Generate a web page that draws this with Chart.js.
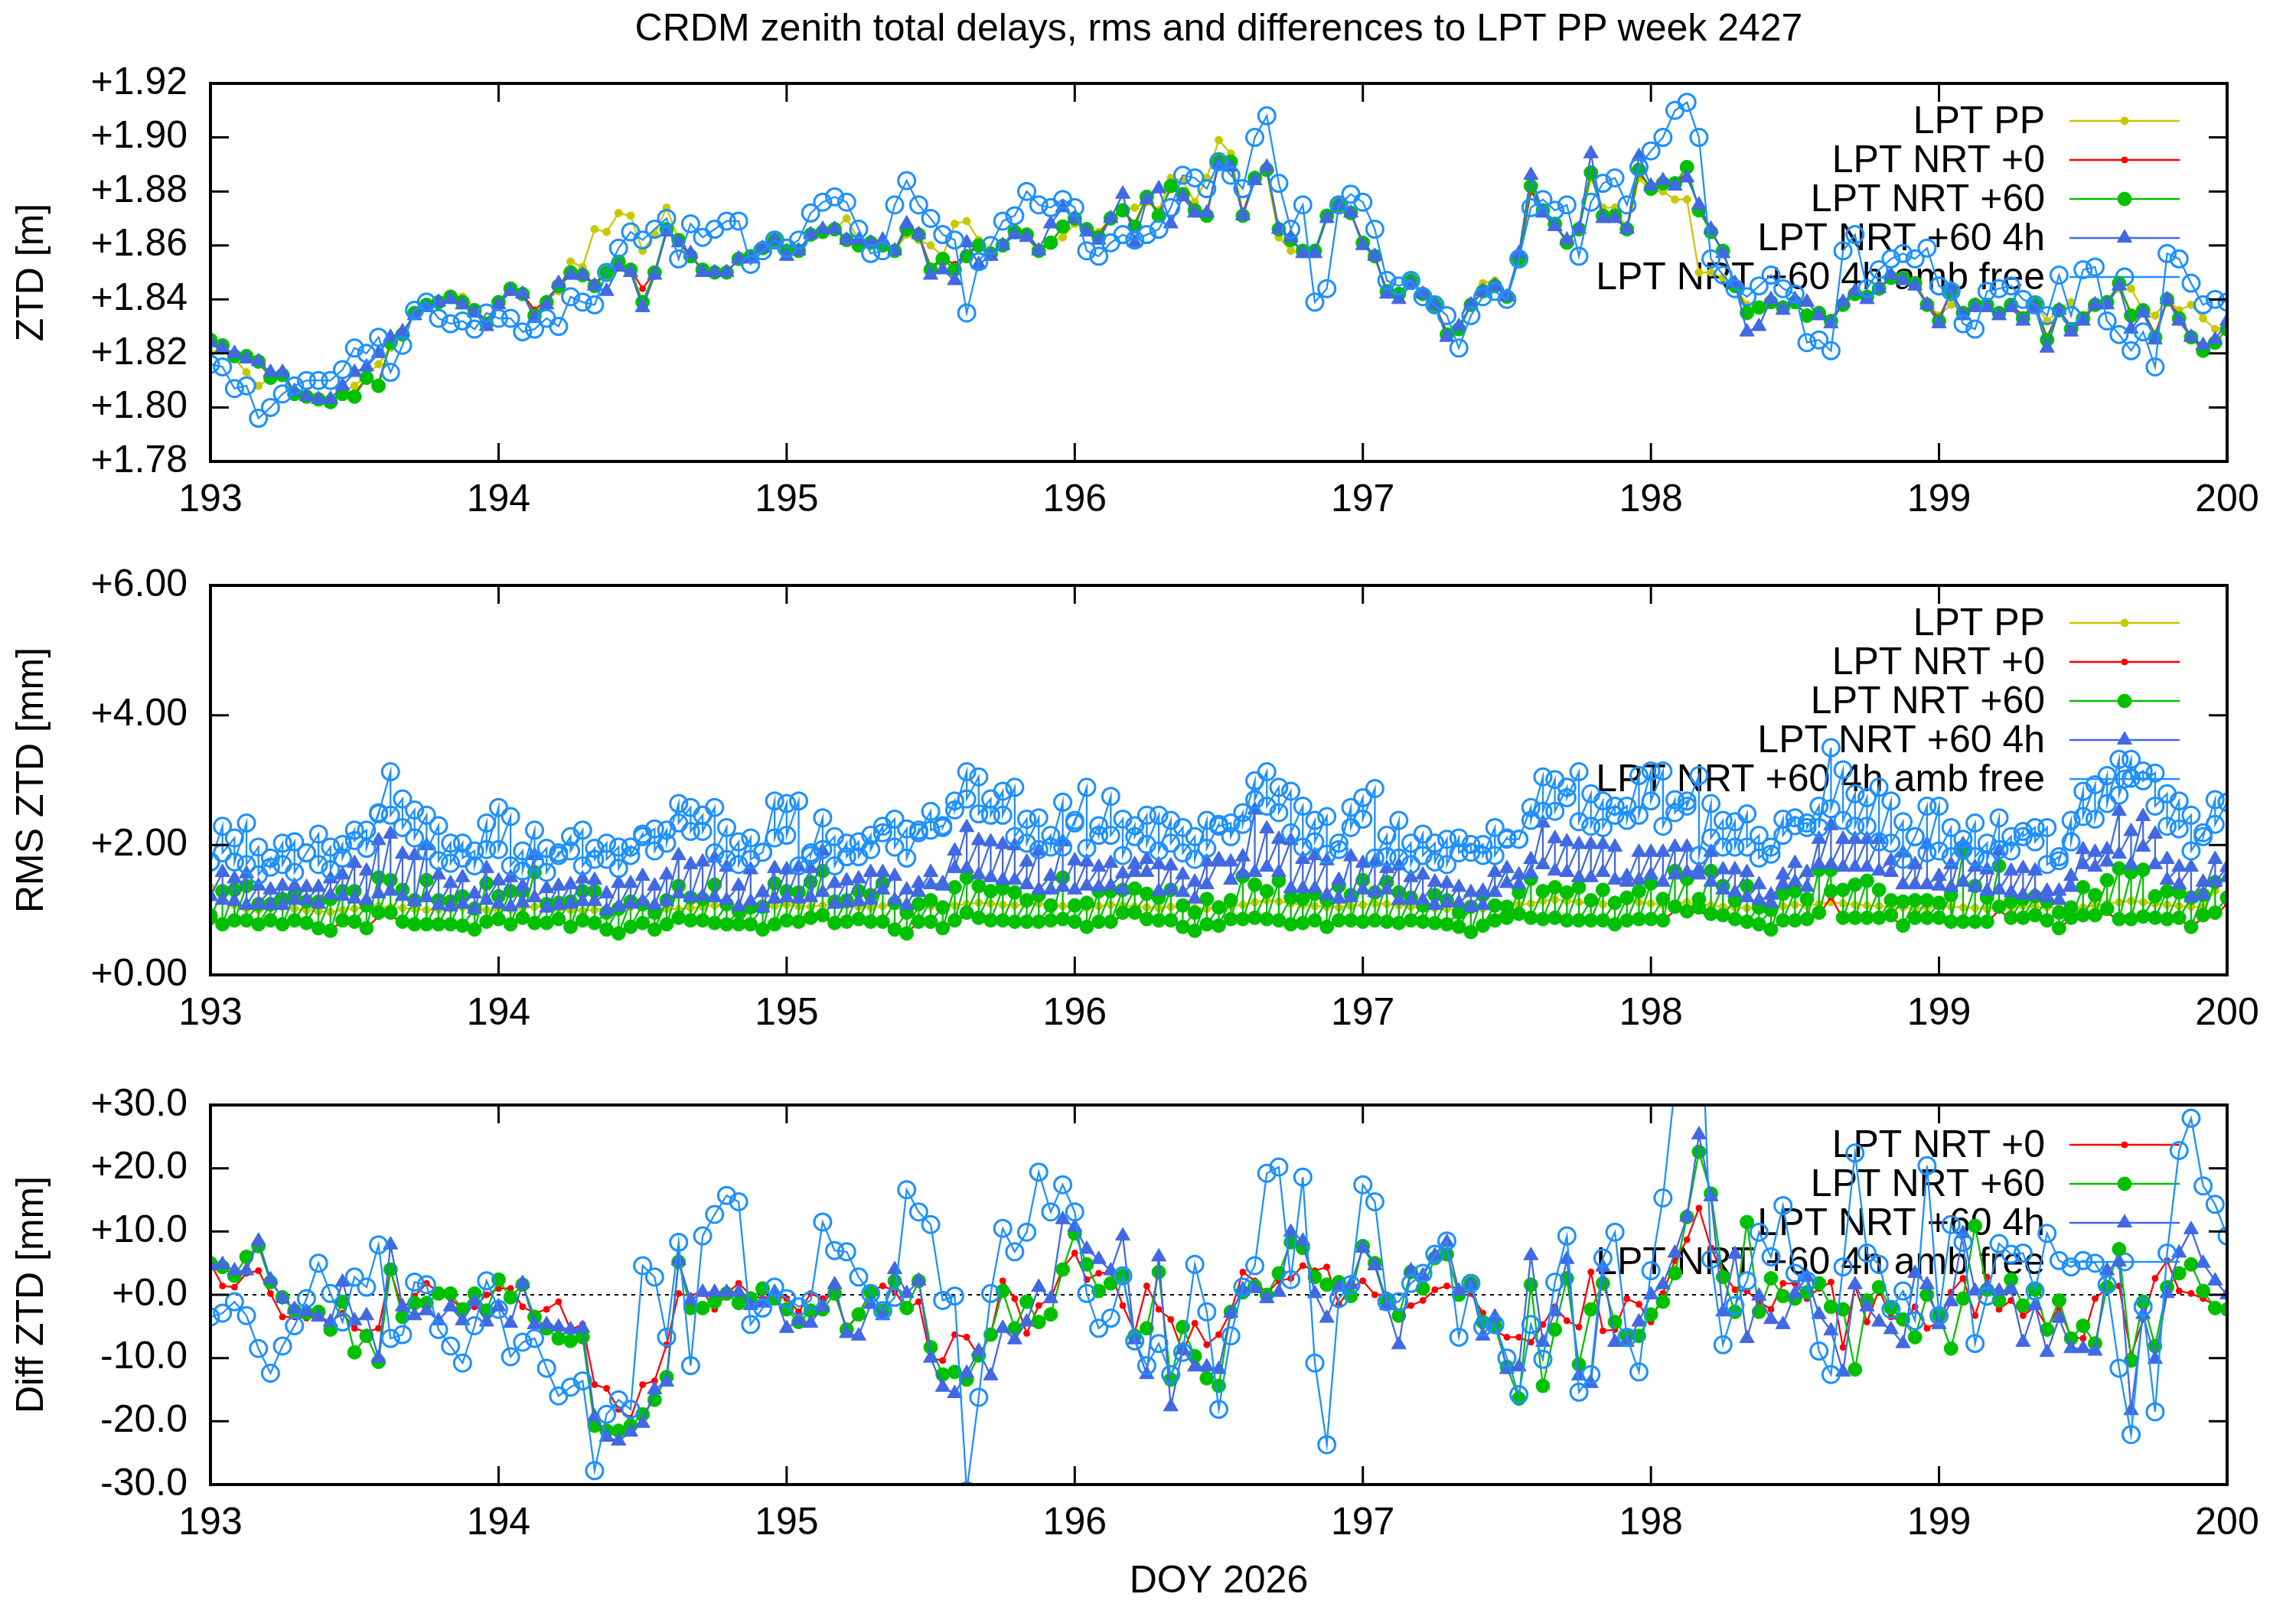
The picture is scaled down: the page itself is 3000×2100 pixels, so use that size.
<!DOCTYPE html>
<html>
<head>
<meta charset="utf-8">
<script src="https://cdn.jsdelivr.net/npm/chart.js@4.4.1/dist/chart.umd.min.js"></script>
<style>
  body { margin: 0; background: #fff; width: 3000px; height: 2100px; position: relative; overflow: hidden; }
  canvas { position: absolute; left: 0; }
  #title { position: absolute; left: 275px; width: 2635px; top: 8px; text-align: center;
           font: 50px "Liberation Sans", Arial, sans-serif; line-height: 56px; color: #000; }
</style>
</head>
<body>
<div id="title">CRDM zenith total delays, rms and differences to LPT PP week 2427</div>
<canvas id="ztd" width="3000" height="700" style="top:0px"></canvas>
<canvas id="rms" width="3000" height="660" style="top:700px"></canvas>
<canvas id="diff" width="3000" height="740" style="top:1360px"></canvas>
<script>
// hourly epochs, DOY 193.0 .. 200.0
const firstDoy = 193;
const hours = [];
for (let h = 0; h <= 168; h++) hours.push(firstDoy + h / 24);

// ---- ZTD [m] ----
const ztdPP = [
  1.820,1.822,1.818,1.813,1.808,1.811,1.812,1.806,1.805,1.804,
  1.804,1.806,1.808,1.812,1.816,1.822,1.828,1.834,1.838,1.839,
  1.841,1.841,1.837,1.832,1.839,1.843,1.842,1.836,1.840,1.843,
  1.854,1.852,1.866,1.865,1.872,1.871,1.858,1.864,1.874,1.862,
  1.857,1.851,1.850,1.850,1.855,1.856,1.859,1.862,1.858,1.858,
  1.864,1.865,1.866,1.870,1.862,1.861,1.860,1.858,1.864,1.862,
  1.860,1.856,1.868,1.869,1.862,1.858,1.860,1.864,1.863,1.858,
  1.862,1.863,1.868,1.866,1.865,1.870,1.873,1.874,1.876,1.873,
  1.885,1.884,1.876,1.885,1.899,1.894,1.872,1.884,1.887,1.863,
  1.858,1.857,1.858,1.870,1.874,1.872,1.861,1.855,1.844,1.842,
  1.847,1.843,1.838,1.826,1.828,1.838,1.846,1.847,1.841,1.856,
  1.881,1.873,1.868,1.862,1.866,1.885,1.874,1.874,1.866,1.885,
  1.880,1.880,1.877,1.877,1.850,1.850,1.848,1.845,1.838,1.837,
  1.839,1.837,1.839,1.834,1.835,1.833,1.838,1.843,1.841,1.844,
  1.848,1.849,1.846,1.839,1.834,1.838,1.836,1.838,1.838,1.835,
  1.838,1.834,1.838,1.832,1.836,1.839,1.834,1.838,1.839,1.844,
  1.844,1.836,1.834,1.840,1.836,1.838,1.833,1.829,1.830
];
const ztdNrt0 = [
  1.825,1.822,1.819,1.818,1.816,1.812,1.812,1.806,1.804,1.803,
  1.802,1.806,1.805,1.811,1.809,1.824,1.827,1.835,1.838,1.839,
  1.841,1.839,1.836,1.832,1.839,1.844,1.842,1.836,1.840,1.845,
  1.849,1.849,1.846,1.850,1.853,1.851,1.844,1.850,1.865,1.861,
  1.856,1.851,1.850,1.850,1.855,1.856,1.859,1.862,1.858,1.858,
  1.864,1.865,1.866,1.862,1.860,1.861,1.860,1.858,1.866,1.864,
  1.852,1.855,1.853,1.857,1.860,1.857,1.860,1.865,1.864,1.859,
  1.861,1.867,1.870,1.866,1.864,1.870,1.873,1.868,1.878,1.872,
  1.881,1.879,1.874,1.872,1.891,1.890,1.872,1.885,1.888,1.866,
  1.862,1.858,1.858,1.870,1.875,1.872,1.861,1.856,1.843,1.842,
  1.847,1.842,1.838,1.828,1.829,1.838,1.843,1.845,1.841,1.855,
  1.880,1.873,1.868,1.861,1.866,1.887,1.871,1.871,1.866,1.887,
  1.881,1.883,1.883,1.887,1.874,1.865,1.858,1.845,1.836,1.837,
  1.839,1.837,1.839,1.834,1.835,1.833,1.838,1.842,1.841,1.844,
  1.848,1.848,1.846,1.838,1.833,1.843,1.835,1.838,1.838,1.835,
  1.838,1.834,1.838,1.826,1.836,1.830,1.833,1.838,1.839,1.845,
  1.835,1.836,1.827,1.840,1.834,1.826,1.822,1.824,1.829
];
const ztdNrt60 = [
  1.825,1.823,1.819,1.819,1.817,1.811,1.812,1.805,1.804,1.803,
  1.802,1.805,1.804,1.811,1.808,1.824,1.827,1.835,1.838,1.839,
  1.841,1.839,1.836,1.831,1.839,1.844,1.842,1.834,1.839,1.845,
  1.850,1.849,1.845,1.850,1.854,1.851,1.839,1.850,1.866,1.862,
  1.856,1.851,1.850,1.850,1.855,1.856,1.859,1.862,1.858,1.858,
  1.864,1.865,1.866,1.862,1.860,1.861,1.860,1.858,1.866,1.864,
  1.851,1.855,1.851,1.856,1.860,1.857,1.860,1.865,1.864,1.858,
  1.861,1.867,1.870,1.866,1.863,1.870,1.873,1.867,1.878,1.871,
  1.882,1.879,1.873,1.871,1.891,1.891,1.871,1.885,1.888,1.866,
  1.862,1.858,1.858,1.871,1.875,1.872,1.861,1.856,1.843,1.842,
  1.847,1.842,1.838,1.827,1.829,1.838,1.843,1.845,1.841,1.855,
  1.882,1.873,1.868,1.861,1.866,1.887,1.871,1.871,1.866,1.888,
  1.881,1.883,1.883,1.889,1.873,1.865,1.858,1.845,1.835,1.837,
  1.839,1.837,1.839,1.834,1.835,1.832,1.838,1.842,1.841,1.844,
  1.848,1.848,1.846,1.838,1.832,1.843,1.835,1.838,1.838,1.835,
  1.838,1.833,1.838,1.825,1.836,1.829,1.833,1.838,1.839,1.846,
  1.834,1.836,1.826,1.840,1.833,1.826,1.821,1.824,1.829
];
const ztdNrt60_4h = [
  1.824,1.822,1.820,1.818,1.817,1.813,1.813,1.806,1.804,1.803,
  1.803,1.808,1.813,1.815,1.820,1.826,1.828,1.834,1.837,1.839,
  1.840,1.838,1.835,1.830,1.838,1.843,1.842,1.833,1.838,1.846,
  1.849,1.849,1.845,1.843,1.852,1.850,1.837,1.849,1.865,1.861,
  1.857,1.850,1.850,1.850,1.855,1.855,1.859,1.862,1.856,1.858,
  1.864,1.866,1.866,1.862,1.862,1.861,1.862,1.858,1.868,1.864,
  1.849,1.851,1.847,1.861,1.853,1.856,1.860,1.864,1.863,1.858,
  1.868,1.874,1.870,1.865,1.862,1.870,1.879,1.861,1.877,1.881,
  1.868,1.878,1.872,1.872,1.890,1.889,1.871,1.884,1.889,1.866,
  1.863,1.857,1.857,1.870,1.875,1.872,1.860,1.856,1.842,1.840,
  1.846,1.842,1.838,1.826,1.830,1.838,1.843,1.845,1.841,1.857,
  1.886,1.872,1.867,1.862,1.866,1.894,1.870,1.870,1.866,1.893,
  1.882,1.884,1.882,1.885,1.875,1.866,1.857,1.846,1.828,1.830,
  1.840,1.836,1.840,1.839,1.834,1.831,1.839,1.843,1.840,1.844,
  1.849,1.847,1.845,1.838,1.831,1.844,1.834,1.837,1.837,1.834,
  1.837,1.832,1.837,1.822,1.836,1.828,1.832,1.838,1.838,1.845,
  1.829,1.835,1.825,1.840,1.832,1.826,1.823,1.825,1.832
];
const ztdAmbFree = [
  1.816,1.815,1.807,1.808,1.796,1.800,1.805,1.808,1.810,1.810,
  1.810,1.814,1.822,1.820,1.826,1.813,1.823,1.836,1.839,1.833,
  1.831,1.832,1.829,1.835,1.833,1.833,1.828,1.829,1.833,1.830,
  1.841,1.839,1.838,1.850,1.859,1.865,1.862,1.866,1.870,1.855,
  1.868,1.863,1.866,1.869,1.869,1.853,1.858,1.862,1.859,1.862,
  1.872,1.876,1.878,1.876,1.866,1.857,1.858,1.875,1.884,1.875,
  1.870,1.864,1.862,1.835,1.854,1.860,1.869,1.871,1.880,1.875,
  1.874,1.877,1.874,1.858,1.856,1.861,1.864,1.862,1.864,1.866,
  1.874,1.886,1.885,1.881,1.891,1.886,1.881,1.900,1.908,1.883,
  1.866,1.875,1.839,1.844,1.875,1.879,1.876,1.866,1.847,1.845,
  1.847,1.841,1.838,1.834,1.822,1.834,1.841,1.843,1.840,1.855,
  1.874,1.877,1.873,1.875,1.856,1.876,1.883,1.885,1.875,1.889,
  1.895,1.900,1.910,1.913,1.900,1.855,1.849,1.844,1.841,1.845,
  1.849,1.844,1.842,1.824,1.825,1.821,1.858,1.864,1.844,1.851,
  1.855,1.857,1.855,1.859,1.845,1.843,1.831,1.829,1.843,1.844,
  1.845,1.840,1.838,1.834,1.849,1.834,1.851,1.852,1.832,1.827,
  1.821,1.828,1.815,1.857,1.855,1.846,1.838,1.840,1.839
];

// ---- RMS ZTD [mm] ----  (two values per solution hour: start / end)
const rmsPP = [
  1.35,1.20,1.08,1.02,1.00,1.03,1.05,1.02,1.00,0.98,
  0.97,1.00,1.02,1.04,1.06,1.04,1.03,1.02,1.00,1.01,
  1.02,1.04,1.02,1.00,0.99,1.01,1.03,1.05,1.03,1.02,
  1.00,0.99,1.00,1.02,1.03,1.05,1.06,1.04,1.02,1.01,
  1.03,1.05,1.07,1.05,1.03,1.02,1.04,1.06,1.08,1.06,
  1.05,1.07,1.09,1.07,1.05,1.04,1.06,1.08,1.09,1.08,
  1.06,1.05,1.07,1.09,1.11,1.10,1.08,1.07,1.09,1.10,
  1.08,1.06,1.05,1.04,1.06,1.08,1.07,1.05,1.04,1.03,
  1.05,1.04,1.03,1.02,1.04,1.06,1.08,1.12,1.15,1.13,
  1.10,1.08,1.06,1.05,1.04,1.06,1.08,1.10,1.09,1.07,
  1.05,1.04,1.03,1.02,1.01,1.00,1.02,1.04,1.06,1.08,
  1.10,1.14,1.16,1.14,1.12,1.10,1.09,1.11,1.13,1.12,
  1.10,1.08,1.10,1.12,1.09,1.07,1.05,1.04,1.03,1.02,
  1.04,1.06,1.08,1.07,1.09,1.12,1.10,1.08,1.07,1.06,
  1.05,1.04,1.03,1.04,1.06,1.05,1.04,1.03,1.02,1.03,
  1.04,1.06,1.05,1.04,1.03,1.02,1.04,1.07,1.10,1.12,
  1.14,1.12,1.10,1.08,1.06,1.05,1.04,1.30,1.60
];
const rmsNrt0 = [
  0.86,0.80,0.82,0.82,0.78,0.82,0.78,0.82,0.78,0.72,
  0.70,0.82,0.80,0.72,0.90,0.92,0.80,0.78,0.78,0.78,
  0.78,0.76,0.72,0.80,0.84,0.78,0.84,0.80,0.80,0.84,
  0.76,0.82,0.80,0.72,0.66,0.74,0.80,0.72,0.78,0.84,
  0.82,0.82,0.80,0.78,0.78,0.78,0.72,0.78,0.82,0.80,
  0.84,0.88,0.80,0.80,0.84,0.80,0.80,0.72,0.66,0.80,
  0.80,0.72,0.82,0.92,0.86,0.82,0.82,0.80,0.80,0.80,
  0.82,0.84,0.80,0.76,0.80,0.80,0.92,0.92,0.84,0.82,
  0.82,0.76,0.70,0.78,0.76,0.84,0.84,0.86,0.84,0.82,
  0.78,0.80,0.82,0.76,0.82,0.82,0.80,0.82,0.80,0.80,
  0.82,0.80,0.80,0.78,0.76,0.68,0.76,0.82,0.86,0.90,
  0.86,0.84,0.86,0.82,0.82,0.82,0.82,0.78,0.82,0.84,
  0.84,0.82,1.00,0.94,0.98,0.90,0.90,0.84,0.80,0.78,
  0.72,0.82,0.82,0.84,0.92,1.20,0.86,0.86,0.86,0.86,
  0.88,0.76,0.86,0.86,0.86,0.80,0.80,0.80,0.80,1.00,
  0.86,0.86,0.88,0.82,0.72,0.86,0.88,0.88,0.96,0.84,
  0.84,0.86,0.86,0.84,0.86,0.74,0.88,0.90,1.10
];
const rmsNrt60Hi = [
  0.92,1.29,1.31,1.37,1.09,1.09,1.17,1.23,1.13,1.13,
  1.17,1.29,1.29,1.07,1.50,1.46,1.31,1.15,1.46,1.15,
  1.13,1.21,1.02,1.41,1.21,1.29,1.29,1.58,1.09,1.11,
  1.13,1.29,1.29,0.96,1.02,1.13,1.09,0.96,1.15,1.37,
  1.19,1.17,1.39,1.09,0.98,1.04,1.05,1.41,1.29,1.27,
  1.43,1.60,1.13,1.15,1.29,1.23,1.41,1.11,0.96,1.09,
  1.15,1.04,1.35,1.50,1.37,1.29,1.33,1.27,1.15,1.23,
  1.07,1.50,1.07,1.11,1.29,1.29,1.31,1.33,1.25,1.19,
  1.31,1.07,0.96,1.17,1.04,1.15,1.52,1.39,1.29,1.45,
  1.19,1.17,1.25,1.15,1.37,1.23,1.46,1.27,1.43,1.27,
  1.19,1.07,1.23,1.15,0.96,1.05,1.23,1.07,1.05,1.27,
  1.48,1.29,1.35,1.27,1.35,1.15,1.31,1.11,1.19,1.29,
  1.41,1.17,1.60,1.48,1.17,1.60,1.37,1.15,1.37,1.04,
  1.00,1.25,1.29,1.17,1.62,1.62,1.31,1.39,1.45,1.31,
  1.15,1.13,1.15,1.15,1.11,1.23,1.88,1.37,1.19,1.68,
  1.13,1.17,1.21,1.13,0.96,1.04,1.35,1.23,1.46,1.64,
  1.58,1.62,1.21,1.29,1.27,1.19,1.23,1.43,1.19
];
const rmsNrt60Lo = [
  0.88,0.78,0.84,0.84,0.78,0.84,0.78,0.84,0.80,0.72,
  0.68,0.84,0.82,0.72,0.96,0.96,0.82,0.78,0.78,0.78,
  0.78,0.76,0.70,0.82,0.86,0.78,0.88,0.80,0.80,0.86,
  0.74,0.84,0.80,0.70,0.64,0.74,0.80,0.70,0.78,0.88,
  0.84,0.84,0.80,0.78,0.78,0.78,0.70,0.78,0.84,0.82,
  0.88,0.92,0.80,0.82,0.86,0.82,0.82,0.70,0.64,0.82,
  0.82,0.72,0.84,0.96,0.88,0.84,0.84,0.82,0.82,0.82,
  0.84,0.86,0.82,0.74,0.82,0.82,0.96,0.96,0.86,0.84,
  0.84,0.74,0.68,0.78,0.76,0.86,0.86,0.88,0.86,0.84,
  0.78,0.80,0.84,0.74,0.84,0.84,0.82,0.84,0.82,0.80,
  0.84,0.82,0.80,0.78,0.74,0.66,0.76,0.84,0.88,0.94,
  0.88,0.86,0.88,0.84,0.84,0.84,0.84,0.78,0.84,0.86,
  0.86,0.84,1.05,0.98,1.04,0.94,0.92,0.86,0.82,0.78,
  0.70,0.84,0.84,0.86,0.96,1.29,0.88,0.88,0.88,0.88,
  0.92,0.76,0.88,0.88,0.88,0.82,0.82,0.82,0.82,1.05,
  0.88,0.88,0.92,0.84,0.72,0.88,0.92,0.92,1.02,0.86,
  0.86,0.90,0.88,0.86,0.88,0.74,0.92,0.96,1.19
];
const rms4hHi = [
  1.21,1.58,1.48,1.56,1.37,1.31,1.37,1.37,1.35,1.35,
  1.48,1.54,1.72,1.60,2.07,2.17,1.86,1.84,1.99,1.54,
  1.41,1.50,1.25,1.64,1.45,1.50,1.37,1.84,1.33,1.37,
  1.39,1.48,1.46,1.25,1.41,1.41,1.52,1.37,1.54,1.84,
  1.70,1.74,1.80,1.66,1.37,1.62,1.27,1.64,1.62,1.66,
  1.64,1.91,1.41,1.45,1.48,1.58,1.58,1.52,1.31,1.41,
  1.58,1.41,1.91,2.27,2.07,2.05,2.01,1.99,1.74,1.91,
  1.52,2.05,1.76,1.74,1.66,1.72,1.56,1.70,1.78,1.70,
  1.68,1.54,1.43,1.74,1.78,1.74,1.82,2.54,2.25,2.09,
  2.07,1.78,1.84,1.76,1.46,1.82,1.72,1.74,1.64,1.68,
  1.50,1.54,1.43,1.41,1.35,1.27,1.29,1.58,1.64,1.54,
  1.78,2.34,2.10,2.05,2.01,2.01,2.01,1.97,1.52,1.89,
  1.89,1.89,1.97,1.97,1.62,1.89,1.62,1.62,1.58,1.39,
  1.23,1.54,1.72,1.58,2.09,2.30,2.09,2.09,2.09,2.09,
  1.76,1.88,1.70,2.01,1.52,1.70,2.01,1.66,1.62,1.91,
  1.60,1.64,1.60,1.29,1.29,1.52,1.93,1.89,1.93,2.52,
  2.21,2.44,2.17,1.78,1.66,1.66,1.43,1.78,1.66
];
const rms4hLo = [
  1.21,1.15,1.13,1.07,1.09,1.07,1.07,1.15,1.15,1.09,
  1.23,1.21,1.17,1.15,1.25,1.29,1.21,1.13,1.19,1.07,
  1.05,1.09,1.01,1.15,1.09,1.05,1.11,1.19,1.03,1.07,
  1.09,1.13,1.13,0.99,1.05,1.09,1.13,1.07,1.13,1.25,
  1.19,1.21,1.19,1.15,1.05,1.13,1.03,1.17,1.19,1.17,
  1.19,1.27,1.09,1.11,1.13,1.15,1.31,1.15,1.07,1.27,
  1.39,1.37,1.64,1.64,1.54,1.50,1.46,1.46,1.39,1.31,
  1.31,1.35,1.31,1.37,1.35,1.37,1.31,1.58,1.58,1.29,
  1.31,1.27,1.17,1.39,1.74,1.46,1.56,1.58,1.66,1.58,
  1.33,1.33,1.33,1.23,1.17,1.19,1.31,1.27,1.31,1.15,
  1.15,1.15,1.07,1.11,1.11,1.04,1.07,1.27,1.41,1.39,
  1.56,1.70,1.60,1.58,1.50,1.50,1.58,1.46,1.43,1.46,
  1.54,1.43,1.54,1.58,1.54,1.43,1.31,1.27,1.19,1.15,
  1.11,1.39,1.43,1.35,1.70,1.70,1.66,1.66,1.66,1.60,
  1.58,1.39,1.39,1.39,1.37,1.35,1.43,1.35,1.29,1.31,
  1.27,1.23,1.23,1.19,1.15,1.35,1.70,1.66,1.74,1.86,
  1.70,1.97,1.70,1.46,1.39,1.19,1.23,1.43,1.50
];
const rmsAmbHi = [
  1.74,2.29,2.11,2.34,1.97,1.80,2.03,2.05,1.88,2.17,
  1.97,2.01,2.23,2.23,2.50,3.13,2.71,2.54,2.46,2.30,
  2.03,2.03,1.91,2.34,2.58,2.44,1.91,2.23,1.95,1.88,
  2.13,2.23,1.95,2.03,1.97,1.97,2.17,2.25,2.23,2.64,
  2.58,2.46,2.58,2.27,2.05,2.11,1.89,2.68,2.64,2.68,
  1.88,2.42,2.13,2.03,2.05,2.15,2.29,2.40,2.25,2.23,
  2.52,2.30,2.68,3.13,3.05,2.71,2.83,2.89,2.40,2.42,
  2.15,2.66,2.38,2.89,2.30,2.75,2.40,2.30,2.46,2.46,
  2.38,2.27,2.13,2.38,2.32,2.34,2.50,2.99,3.13,2.89,
  2.83,2.60,2.38,2.44,2.03,2.58,2.73,2.87,2.15,2.38,
  2.03,2.17,2.03,2.09,2.11,2.01,2.01,2.27,2.11,2.09,
  2.58,3.05,3.01,2.89,3.13,2.79,2.68,2.60,2.60,3.07,
  3.14,3.14,2.70,2.68,3.07,2.64,2.38,2.36,2.48,2.15,
  1.97,2.40,2.42,2.34,2.60,3.50,3.16,2.79,2.73,2.89,
  2.68,2.36,2.13,2.60,2.60,2.27,2.09,2.34,2.03,2.42,
  2.13,2.21,2.27,2.27,1.82,2.38,2.83,2.93,3.07,3.32,
  3.32,3.14,3.11,2.79,2.68,2.46,2.19,2.70,2.66
];
const rmsAmbLo = [
  1.74,1.88,1.74,1.70,1.54,1.66,1.70,1.58,1.88,1.70,
  1.62,1.80,2.07,1.95,2.48,2.46,2.27,2.11,1.91,1.76,
  1.72,1.80,1.68,1.93,1.93,1.68,1.60,1.74,1.58,1.84,
  1.91,1.68,1.78,1.78,1.64,1.84,2.13,1.91,2.03,2.34,
  2.21,2.21,1.88,1.78,1.70,1.78,1.89,2.11,2.15,1.68,
  1.84,1.93,1.68,1.82,1.82,1.93,2.19,1.97,1.80,2.19,
  2.23,2.27,2.54,2.71,2.48,2.46,2.46,2.13,2.03,1.93,
  1.97,1.97,2.34,1.95,2.15,2.15,1.84,2.13,2.01,1.91,
  2.03,1.88,1.78,1.95,2.29,2.13,2.32,2.70,2.60,2.50,
  2.19,1.97,2.05,1.86,1.93,2.27,2.40,1.80,1.82,1.80,
  1.70,1.84,1.74,1.70,1.88,1.89,1.84,1.84,2.09,2.09,
  2.38,2.52,2.52,2.73,2.36,2.29,2.27,2.46,2.38,2.46,
  2.68,2.29,2.50,2.60,1.84,2.11,1.97,1.97,1.97,1.80,
  1.86,2.15,2.30,2.27,2.27,2.56,2.38,2.29,2.29,2.05,
  2.03,1.78,2.13,1.88,1.91,1.82,1.93,1.82,1.76,1.93,
  1.91,2.13,2.05,1.70,1.76,2.05,2.44,2.40,2.64,2.77,
  3.03,2.99,2.60,2.29,2.25,1.91,2.13,2.32,2.66
];

// ---- Diff ZTD [mm] to LPT PP ----
const diffNrt0 = [
  5.0,1.4,1.2,3.4,3.8,0.2,-3.5,-3.5,-3.7,-3.5,
  -4.3,-2.9,-5.3,-5.9,-5.3,3.8,-2.3,-0.2,1.8,0.4,
  -0.6,-2.3,-1.9,0.0,1.0,1.0,-1.9,-2.9,-2.3,-1.1,
  -5.5,-4.7,-14.2,-14.8,-18.1,-19.5,-14.2,-13.6,-7.9,0.2,
  -0.2,0.6,-2.3,0.2,1.8,0.0,-0.6,0.0,-0.6,-2.7,
  0.2,-0.6,0.2,-5.3,-3.1,0.6,1.4,0.6,-2.3,-1.1,
  -10.0,-10.4,-6.3,-6.7,-9.7,-6.3,2.2,-0.6,-6.1,-1.7,
  -0.6,4.2,6.6,2.4,3.4,3.6,-1.7,-5.9,1.4,-2.3,
  -3.9,-9.1,-4.5,-7.9,-6.3,-2.7,3.6,2.2,0.2,2.2,
  2.6,4.6,3.8,4.4,-1.5,1.0,2.2,0.0,0.0,-2.7,
  -1.7,-0.9,0.8,1.4,1.0,0.2,-2.9,-5.7,-6.7,-6.7,
  -7.5,-4.7,-1.9,-4.1,-5.1,3.6,-5.7,-5.5,-0.6,-1.5,
  -4.3,0.2,5.4,8.7,13.7,7.4,3.4,0.8,0.6,-1.1,
  -2.3,1.8,1.8,-0.6,1.0,2.0,-8.3,1.4,-4.3,0.8,
  -3.5,-4.3,-1.9,-5.3,-4.3,0.4,2.6,-3.3,2.8,-2.3,
  -0.9,-3.3,-1.9,-5.1,-2.1,-6.7,-6.9,-0.6,1.0,1.4,
  -9.6,-3.9,2.6,5.4,0.6,0.2,-0.6,-1.7,-2.3
];
const diffNrt60 = [
  5.0,4.4,3.0,6.0,7.7,2.0,-0.4,-2.5,-2.9,-2.7,
  -5.5,-1.1,-9.1,-6.5,-10.6,4.0,-3.5,-1.3,-1.3,0.2,
  0.2,-2.3,0.2,-2.5,2.4,-0.4,1.6,-3.5,-5.3,-6.9,
  -7.3,-6.7,-20.7,-21.5,-21.5,-20.7,-18.9,-16.6,-13.0,5.2,
  -2.1,-2.1,-1.1,0.2,-1.3,-0.6,1.0,-0.6,-2.3,-4.3,
  -2.5,-2.3,0.2,-5.5,-3.1,0.4,-2.5,2.2,-2.1,2.2,
  -8.3,-12.6,-12.2,-13.4,-9.6,-6.3,0.6,-5.3,-1.1,-4.3,
  -3.1,4.0,9.7,4.8,0.6,1.8,3.0,-6.5,-5.3,3.6,
  -13.4,-5.1,-9.7,-13.2,-14.4,-2.7,0.4,1.4,0.0,3.4,
  8.3,7.4,2.8,1.6,2.0,-0.2,7.7,5.0,-1.1,-3.3,
  3.6,1.0,5.8,6.4,0.0,1.8,-4.3,-4.9,-11.4,-16.4,
  1.6,-14.4,-5.5,2.6,-11.0,-2.3,1.8,-4.3,-6.5,-6.5,
  -3.1,-1.1,3.4,12.3,22.6,16.0,2.8,-2.7,11.5,-2.7,
  2.6,-0.2,-0.6,0.4,1.8,-1.9,-2.3,-11.8,-0.9,1.2,
  -2.1,-3.9,-6.7,0.0,-3.3,-8.5,-0.6,10.9,0.8,-0.9,
  2.4,-1.7,0.8,-5.5,-0.9,-6.9,-4.9,-7.7,1.2,7.2,
  -10.4,-1.1,-8.1,1.2,3.4,4.8,0.6,-2.1,-2.3
];
const diff4h = [
  4.6,4.8,3.8,3.8,8.5,2.4,-0.6,-2.3,-2.7,-3.5,
  -4.3,2.0,-4.1,-3.3,-10.0,7.9,-1.9,-3.3,-2.5,-4.1,
  -1.9,-4.1,-1.1,-4.3,-1.9,-4.5,1.8,-4.7,-4.7,-5.1,
  -5.5,-5.3,-19.3,-22.5,-23.1,-21.7,-20.3,-15.0,-13.8,5.4,
  -0.9,0.4,0.4,0.4,0.4,-1.7,-1.3,0.4,-5.3,-4.1,
  -4.5,-1.9,1.6,-6.1,-6.5,-1.5,-3.3,4.0,0.2,2.2,
  -10.0,-14.6,-15.6,-12.4,-8.9,-12.8,-5.3,-7.1,-4.3,1.2,
  -0.6,11.9,10.7,7.2,5.6,3.8,9.3,-7.1,-12.6,6.0,
  -17.7,-8.7,-11.4,-11.4,-11.8,-2.9,0.8,1.0,-0.6,0.4,
  9.9,8.5,0.2,-3.7,1.2,1.6,7.4,4.6,-1.7,-7.9,
  3.8,3.0,6.2,8.3,0.6,1.6,-6.5,-3.5,-11.8,-11.4,
  6.2,-7.5,-2.7,5.6,-12.8,-14.0,4.4,-7.5,-7.5,-4.3,
  0.0,1.6,6.6,12.3,25.3,15.5,-2.7,6.4,-6.9,-0.2,
  -3.9,-4.7,0.2,2.8,-3.1,-5.7,-12.2,1.6,-1.9,-4.3,
  -5.5,-7.7,3.4,1.6,-4.7,-1.1,9.7,0.6,1.2,0.6,
  0.8,-7.5,-1.7,-9.1,-3.7,-8.5,-8.5,-8.9,3.8,5.2,
  -18.3,-3.1,-10.2,0.2,6.6,10.3,5.0,2.2,0.0
];
const diffAmbFree = [
  -3.5,-2.9,-1.1,-3.3,-8.5,-12.4,-8.1,-4.9,-0.6,5.0,
  0.2,-4.3,2.8,1.2,7.9,-6.9,-6.3,2.0,1.6,-5.5,
  -8.1,-10.8,-4.9,2.2,-2.3,-9.8,-7.5,-6.9,-11.6,-16.0,
  -14.6,-13.6,-27.8,-18.9,-16.6,-18.1,4.6,2.8,-6.7,8.3,
  -11.2,9.3,12.7,15.7,14.7,-4.7,-2.1,1.2,-0.6,-1.9,
  -0.9,11.5,7.0,6.8,2.8,0.2,-2.5,-0.4,16.6,13.1,
  11.1,-0.9,-0.2,-31.0,-16.2,0.2,10.5,6.8,9.9,19.4,
  13.1,17.4,13.1,0.2,-5.3,-3.7,3.0,-7.3,-11.2,-7.7,
  -12.6,-9.1,4.8,-2.7,-18.1,-6.5,1.2,4.6,19.2,20.2,
  2.4,18.6,-10.8,-23.7,-0.6,1.6,17.4,14.7,-1.1,-1.1,
  1.8,3.4,6.4,8.5,-6.7,1.8,-5.1,-4.7,-10.0,-15.8,
  -4.7,-10.2,2.0,9.3,-15.4,-12.6,5.8,9.9,-6.7,-12.2,
  3.8,15.3,33.0,45.0,55.0,5.6,-7.9,-1.7,2.2,9.9,
  6.0,14.1,3.4,2.2,-8.9,-12.6,4.4,22.4,6.6,4.8,
  -2.3,0.6,-4.1,20.4,-3.3,11.1,8.3,-7.7,-0.2,8.1,
  6.4,6.6,0.6,9.7,5.4,4.4,5.4,5.0,1.6,-11.6,
  -22.1,-1.9,-18.5,6.6,22.8,27.9,17.2,14.3,9.3
];

const FONT = '"Liberation Sans", Arial, sans-serif';
const FS = 50;

const styles = {
  pp:    { label: 'LPT PP',                  color: '#c8c800', shape: 'circle',   r: 5,  order: 4 },
  nrt0:  { label: 'LPT NRT +0',              color: '#ff0000', shape: 'circle',   r: 4,  order: 3 },
  nrt60: { label: 'LPT NRT +60',             color: '#00c000', shape: 'circle',   r: 9,  order: 2 },
  nrt4h: { label: 'LPT NRT +60 4h',          color: '#4169e1', shape: 'triangle', r: 11, order: 1 },
  amb:   { label: 'LPT NRT +60 4h amb free', color: '#1e90ff', shape: 'circle',   r: 11, order: 0, open: true }
};

function pts(values) {
  return values.map((v, i) => ({ x: hours[i], y: v }));
}
function pairPts(hi, lo) {
  const out = [];
  hi.forEach((v, i) => { out.push({ x: hours[i], y: v }); out.push({ x: hours[i], y: lo[i] }); });
  return out;
}

function ds(key, data) {
  const s = styles[key];
  return {
    label: s.label, data,
    borderColor: s.color, backgroundColor: s.color, borderWidth: 2.3,
    pointStyle: s.shape, pointRadius: s.r, pointHoverRadius: s.r,
    pointBackgroundColor: s.open ? 'rgba(0,0,0,0)' : s.color,
    pointBorderColor: s.color, pointBorderWidth: s.open ? 3 : 1,
    order: s.order, tension: 0, clip: 2
  };
}

// key drawn inside the plot, right aligned text with sample line on the right
const keyPlugin = {
  id: 'gnuKey',
  beforeDatasetsDraw(chart, args, opts) {
    const { ctx, chartArea: a } = chart;
    const first = opts.first || 49;
    ctx.save();
    ctx.font = FS + 'px ' + FONT;
    ctx.textAlign = 'right';
    ctx.textBaseline = 'middle';
    chart.data.datasets.forEach((d, i) => {
      const y = a.top + first + i * 51;
      ctx.fillStyle = '#000';
      ctx.fillText(d.label, a.right - 238, y + 2);
      ctx.strokeStyle = d.borderColor;
      ctx.lineWidth = d.borderWidth;
      ctx.beginPath();
      ctx.moveTo(a.right - 206, y);
      ctx.lineTo(a.right - 62, y);
      ctx.stroke();
      ctx.fillStyle = d.pointBackgroundColor;
      ctx.lineWidth = d.pointBorderWidth;
      Chart.helpers.drawPoint(ctx, { pointStyle: d.pointStyle, radius: d.pointRadius, rotation: 0,
                                     borderWidth: d.pointBorderWidth }, a.right - 134, y);
    });
    ctx.restore();
  }
};

// zero line (diff panel only)
const zeroPlugin = {
  id: 'zeroLine',
  beforeDatasetsDraw(chart, args, opts) {
    if (!opts.show) return;
    const { ctx, chartArea: a, scales } = chart;
    const y = scales.y.getPixelForValue(0);
    ctx.save();
    ctx.strokeStyle = '#000';
    ctx.lineWidth = 2;
    ctx.setLineDash([5, 6]);
    ctx.beginPath();
    ctx.moveTo(a.left, y);
    ctx.lineTo(a.right, y);
    ctx.stroke();
    ctx.restore();
  }
};

// border with inward, mirrored ticks
const framePlugin = {
  id: 'frame',
  afterDatasetsDraw(chart) {
    const { ctx, chartArea: a, scales } = chart;
    const len = 24;
    ctx.save();
    ctx.strokeStyle = '#000';
    ctx.lineWidth = 3;
    ctx.beginPath();
    scales.x.ticks.forEach(t => {
      const x = scales.x.getPixelForValue(t.value);
      ctx.moveTo(x, a.bottom); ctx.lineTo(x, a.bottom - len);
      ctx.moveTo(x, a.top); ctx.lineTo(x, a.top + len);
    });
    scales.y.ticks.forEach(t => {
      const y = scales.y.getPixelForValue(t.value);
      ctx.moveTo(a.left, y); ctx.lineTo(a.left + len, y);
      ctx.moveTo(a.right, y); ctx.lineTo(a.right - len, y);
    });
    ctx.stroke();
    ctx.lineWidth = 4;
    ctx.strokeRect(a.left, a.top, a.right - a.left, a.bottom - a.top);
    ctx.restore();
  }
};

function makeChart(id, cfg) {
  const font = { size: FS, family: FONT };
  return new Chart(document.getElementById(id), {
    type: 'line',
    data: { datasets: cfg.datasets },
    options: {
      responsive: false,
      animation: false,
      devicePixelRatio: 1,
      events: [],
      layout: { padding: { top: cfg.top, right: 90, left: 0, bottom: 0 } },
      plugins: {
        legend: { display: false }, tooltip: { enabled: false },
        zeroLine: { show: !!cfg.zero }, gnuKey: { first: cfg.keyFirst || 49 }
      },
      scales: {
        x: {
          type: 'linear', min: 193, max: 200,
          grid: { display: false, drawTicks: false }, border: { display: false },
          ticks: { stepSize: 1, color: '#000', font, padding: 21, maxRotation: 0, autoSkip: false,
                   callback: v => String(v) },
          title: { display: !!cfg.xTitle, text: cfg.xTitle || '', color: '#000', font,
                   padding: { top: 0, bottom: 3 } },
          afterFit: s => { s.height = cfg.xHeight; }
        },
        y: {
          min: cfg.yMin, max: cfg.yMax,
          grid: { display: false, drawTicks: false }, border: { display: false },
          ticks: { stepSize: cfg.yStep, color: '#000', font, padding: 30, callback: cfg.yFmt },
          title: { display: true, text: cfg.yTitle, color: '#000', font, padding: { top: 12, bottom: 0 } },
          afterFit: s => { s.width = 275; }
        }
      }
    },
    plugins: [keyPlugin, zeroPlugin, framePlugin]
  });
}

const plus2 = v => '+' + Number(v).toFixed(2);

makeChart('ztd', {
  top: 109, xHeight: 97, yMin: 1.78, yMax: 1.92, yStep: 0.02, yFmt: plus2, yTitle: 'ZTD [m]',
  datasets: [
    ds('pp', pts(ztdPP)), ds('nrt0', pts(ztdNrt0)), ds('nrt60', pts(ztdNrt60)),
    ds('nrt4h', pts(ztdNrt60_4h)), ds('amb', pts(ztdAmbFree))
  ]
});

makeChart('rms', {
  top: 65, xHeight: 86, yMin: 0, yMax: 6, yStep: 2, yFmt: plus2, yTitle: 'RMS ZTD [mm]',
  datasets: [
    ds('pp', pts(rmsPP)), ds('nrt0', pts(rmsNrt0)), ds('nrt60', pairPts(rmsNrt60Hi, rmsNrt60Lo)),
    ds('nrt4h', pairPts(rms4hHi, rms4hLo)), ds('amb', pairPts(rmsAmbHi, rmsAmbLo))
  ]
});

makeChart('diff', {
  top: 84, xHeight: 160, yMin: -30, yMax: 30, yStep: 10, zero: true, xTitle: 'DOY 2026', keyFirst: 52,
  yFmt: v => (v < 0 ? '-' : '+') + Math.abs(v).toFixed(1), yTitle: 'Diff ZTD [mm]',
  datasets: [
    ds('nrt0', pts(diffNrt0)), ds('nrt60', pts(diffNrt60)),
    ds('nrt4h', pts(diff4h)), ds('amb', pts(diffAmbFree))
  ]
});
</script>
</body>
</html>
